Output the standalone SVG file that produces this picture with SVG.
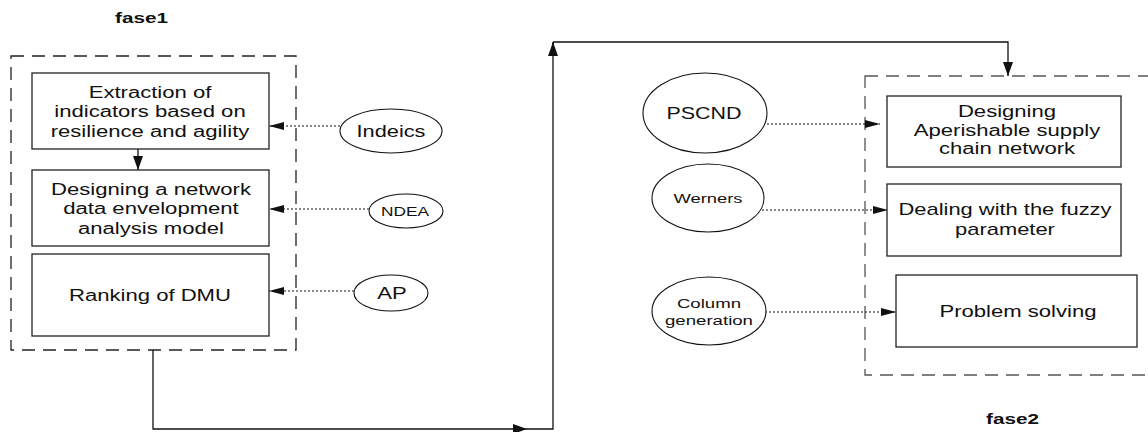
<svg xmlns="http://www.w3.org/2000/svg" width="1148" height="432" viewBox="0 0 1148 432">
<style>
.bg{fill:#fff}
.box{fill:#fff;stroke:#222;stroke-width:1.3}
.dash{fill:none;stroke:#222;stroke-width:1.3;stroke-dasharray:13 8}
.dash2{fill:none;stroke:#555;stroke-width:1.3;stroke-dasharray:13 8}
.ell{fill:#fff;stroke:#111;stroke-width:1.1}
.t{font-family:"Liberation Sans",Arial,sans-serif;font-size:16px;fill:#111;text-anchor:middle}
.s{font-size:13.5px}
.b{font-weight:bold;font-size:15px}
.solid{fill:none;stroke:#111;stroke-width:1.3}
.dot{fill:none;stroke:#111;stroke-width:1;stroke-dasharray:2 2}
</style>
<defs>
<marker id="a" viewBox="0 0 14 10" refX="14" refY="5" markerWidth="14" markerHeight="10" markerUnits="userSpaceOnUse" orient="auto"><path d="M0,0 L14,5 L0,10 z" fill="#111"/></marker>
<marker id="d" viewBox="0 0 15 8" refX="15" refY="4" markerWidth="15" markerHeight="8" markerUnits="userSpaceOnUse" orient="auto"><path d="M0,0 L15,4 L0,8 z" fill="#111"/></marker>
</defs>
<rect class="bg" x="0" y="0" width="1148" height="432"/>

<g id="fase1">
<rect class="dash" x="11" y="56" width="285" height="294"/>
<text class="t b" transform="translate(141.5 0) scale(1.38 1)"><tspan x="0" y="23">fase1</tspan></text>
</g>
<g id="fase2">
<rect class="dash2" x="865" y="76" width="400" height="299"/>
<text class="t b" transform="translate(1012.5 0) scale(1.38 1)"><tspan x="0" y="424">fase2</tspan></text>
</g>

<g id="connectors">
<path class="solid" d="M153,350 V429 H527" marker-end="url(#a)"/>
<path class="solid" d="M527,429 H553 V42"/>
<path class="solid" d="M553,56 V42" marker-end="url(#a)"/>
<path class="solid" d="M553,42 H1008 V76" marker-end="url(#a)"/>
<path class="solid" d="M138,149 V170" marker-end="url(#a)"/>
<path class="dot" d="M340,126 H269" marker-end="url(#d)"/>
<path class="dot" d="M369,209 H269" marker-end="url(#d)"/>
<path class="dot" d="M354,291 H269" marker-end="url(#d)"/>
<path class="dot" d="M747,124 H880" marker-end="url(#d)"/>
<path class="dot" d="M762,210 H888" marker-end="url(#d)"/>
<path class="dot" d="M765,312 H896" marker-end="url(#d)"/>
</g>

<g id="extraction">
<rect class="box" x="32" y="73" width="237" height="76"/>
<text class="t" transform="translate(150 0) scale(1.38 1)"><tspan x="0" y="98">Extraction of</tspan><tspan x="0" y="117.5">indicators based on</tspan><tspan x="0" y="137">resilience and agility</tspan></text>
</g>
<g id="designing-ndea">
<rect class="box" x="32" y="170" width="237" height="76"/>
<text class="t" transform="translate(151 0) scale(1.38 1)"><tspan x="0" y="195">Designing a network</tspan><tspan x="0" y="214.5">data envelopment</tspan><tspan x="0" y="234">analysis model</tspan></text>
</g>
<g id="ranking">
<rect class="box" x="32" y="254" width="237" height="82"/>
<text class="t" transform="translate(150 0) scale(1.38 1)"><tspan x="0" y="301">Ranking of DMU</tspan></text>
</g>

<g id="indeics">
<ellipse class="ell" cx="391" cy="131" rx="51" ry="22"/>
<text class="t" transform="translate(391 0) scale(1.36 1)"><tspan x="0" y="137">Indeics</tspan></text>
</g>
<g id="ndea">
<ellipse class="ell" cx="406" cy="211" rx="37" ry="17"/>
<text class="t s" transform="translate(405 0) scale(1.33 1)"><tspan x="0" y="216" style="font-size:13px">NDEA</tspan></text>
</g>
<g id="ap">
<ellipse class="ell" cx="391" cy="293" rx="37" ry="18"/>
<text class="t" transform="translate(392 0) scale(1.38 1)"><tspan x="0" y="299">AP</tspan></text>
</g>

<g id="pscnd">
<ellipse class="ell" cx="705" cy="113" rx="62" ry="40"/>
<text class="t" transform="translate(704 0) scale(1.34 1)"><tspan x="0" y="119">PSCND</tspan></text>
</g>
<g id="werners">
<ellipse class="ell" cx="708" cy="198" rx="56" ry="34"/>
<text class="t s" transform="translate(708 0) scale(1.36 1)"><tspan x="0" y="203">Werners</tspan></text>
</g>
<g id="column-generation">
<ellipse class="ell" cx="709" cy="311" rx="57" ry="34"/>
<text class="t s" transform="translate(709 0) scale(1.38 1)"><tspan x="0" y="308">Column</tspan><tspan x="0" y="325">generation</tspan></text>
</g>

<g id="designing-supply">
<rect class="box" x="887" y="96" width="234" height="71"/>
<text class="t" transform="translate(1007 0) scale(1.38 1)"><tspan x="0" y="117.5">Designing</tspan><tspan x="0" y="136">Aperishable  supply</tspan><tspan x="0" y="154.5">chain network</tspan></text>
</g>
<g id="fuzzy">
<rect class="box" x="887" y="184" width="234" height="72"/>
<text class="t" transform="translate(1005 0) scale(1.37 1)"><tspan x="0" y="215">Dealing with the fuzzy</tspan><tspan x="0" y="235">parameter</tspan></text>
</g>
<g id="problem-solving">
<rect class="box" x="896" y="275" width="241" height="72"/>
<text class="t" transform="translate(1018 0) scale(1.38 1)"><tspan x="0" y="317">Problem solving</tspan></text>
</g>
</svg>
